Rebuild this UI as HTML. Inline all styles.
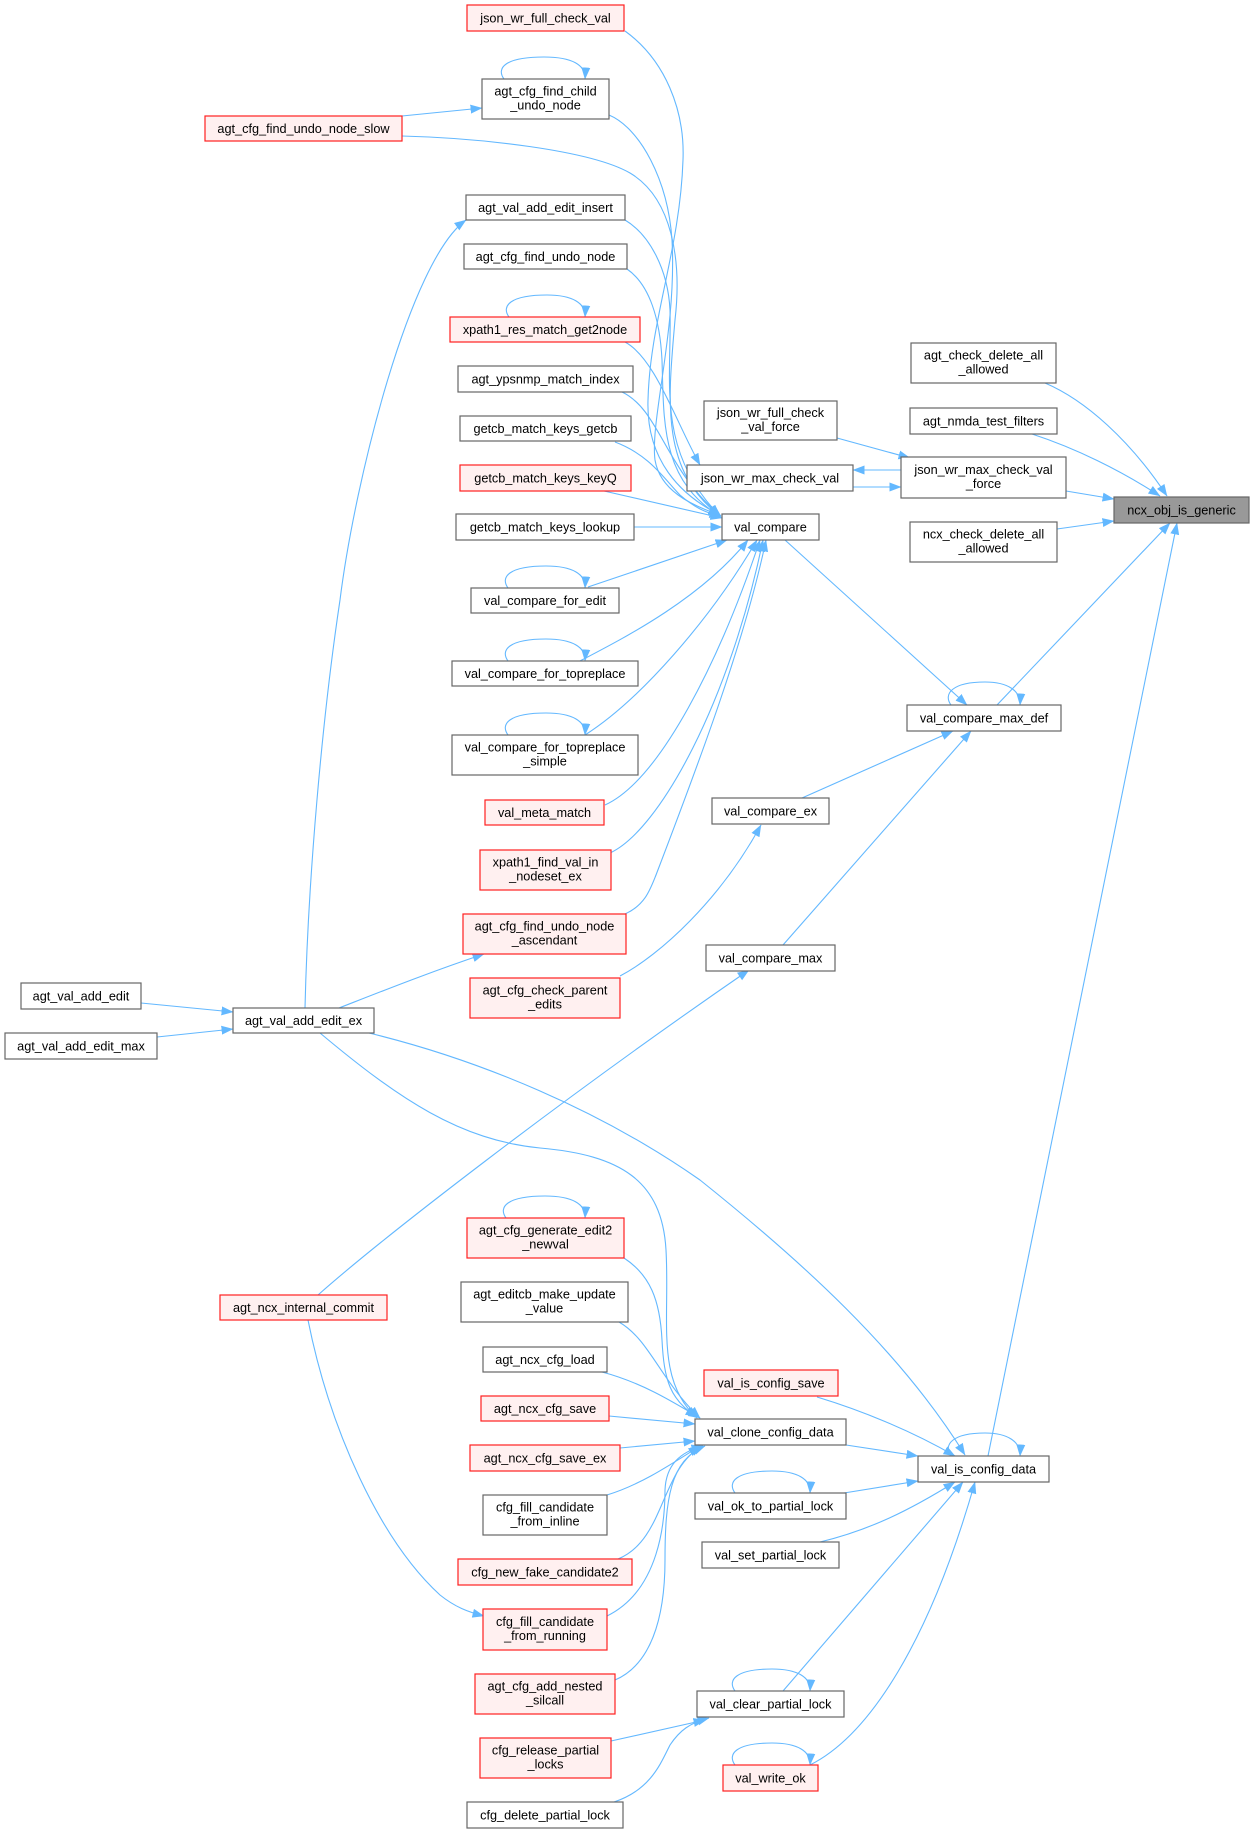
<!DOCTYPE html>
<html><head><meta charset="utf-8"><style>
html,body{margin:0;padding:0;background:#fff;}
svg{display:block;}
text{font-family:"Liberation Sans",Arial,sans-serif;font-size:12.7px;fill:#000;text-anchor:middle;}
.g{fill:#fff;stroke:#666;stroke-width:1.2;}
.r{fill:#fff0f0;stroke:#ff2020;stroke-width:1.2;}
.root{fill:#999;stroke:#666;stroke-width:1.2;}
.e path{fill:none;stroke:#63b8ff;stroke-width:1.1;marker-end:url(#ah);}
</style></head><body>
<svg width="1253" height="1833" viewBox="0 0 1253 1833" xmlns="http://www.w3.org/2000/svg">
<defs><marker id="ah" markerUnits="userSpaceOnUse" markerWidth="13" markerHeight="10" refX="11.5" refY="4.5" orient="auto"><path d="M0,0 L12,4.5 L0,9 z" fill="#63b8ff"/></marker></defs>
<g class="e">
<path d="M1045,383 C1085,400 1130,440 1167,496"/>
<path d="M1032,434 C1075,448 1120,470 1160,496"/>
<path d="M1066,491 L1114,499"/>
<path d="M1057,529 L1114,521"/>
<path d="M997,705 L1170,523"/>
<path d="M988,1456 L1177,523"/>
<path d="M837,438 L910,458"/>
<path d="M901,470 L853,470"/>
<path d="M853,487 L901,487"/>
<path d="M625,342 C655,358 675,420 700,465"/>
<path d="M625,31 C665,60 685,110 683,160 C680,250 650,320 648,400 C646,460 680,495 720,515"/>
<path d="M609,115 C640,128 668,180 672,240 C677,330 650,420 655,460 C660,490 690,505 720,515"/>
<path d="M402,136 C480,138 590,150 630,173 C672,198 682,260 675,320 C668,400 660,470 720,516"/>
<path d="M625,220 C650,235 668,270 670,310 C672,380 655,450 720,516"/>
<path d="M627,269 C650,285 660,320 662,360 C664,420 660,480 720,516"/>
<path d="M305,1008 C308,880 322,720 340,600 C355,480 410,260 466,220"/>
<path d="M141,1003 L233,1012"/>
<path d="M157,1037 L233,1029"/>
<path d="M339,1008 C380,992 430,972 484,954"/>
<path d="M320,1033 C400,1100 460,1140 540,1148 C620,1155 662,1180 666,1250 C670,1320 655,1380 697,1418"/>
<path d="M369,1033 C480,1060 600,1110 700,1180 C800,1260 900,1350 965,1455"/>
<path d="M318,1295 C380,1240 560,1100 749,970"/>
<path d="M308,1320 C330,1430 380,1540 440,1595 C455,1607 468,1612 484,1616"/>
<path d="M620,976 C660,955 720,900 761,825"/>
<path d="M785,540 L967,705"/>
<path d="M802,798 L953,731"/>
<path d="M783,945 L971,731"/>
<path d="M634,527 L722,527"/>
<path d="M604,491 L722,518"/>
<path d="M615,442 C650,455 665,480 680,495 C695,508 705,512 721,517"/>
<path d="M622,392 C660,410 665,470 721,516"/>
<path d="M588,587 L727,540"/>
<path d="M580,661 C620,640 700,600 748,540"/>
<path d="M585,735 C640,700 710,620 757,540"/>
<path d="M605,805 C660,780 720,660 760,540"/>
<path d="M610,853 C660,830 730,700 763,540"/>
<path d="M625,914 C645,905 650,890 656,875 C700,760 745,640 766,540"/>
<path d="M624,1258 C650,1275 660,1300 662,1340 C664,1380 670,1400 697,1417"/>
<path d="M619,1322 C650,1340 660,1380 700,1418"/>
<path d="M602,1372 C640,1382 670,1400 700,1418"/>
<path d="M609,1416 L695,1424"/>
<path d="M620,1448 L695,1441"/>
<path d="M607,1495 C640,1485 670,1465 700,1446"/>
<path d="M618,1559 C665,1540 660,1470 702,1446"/>
<path d="M607,1616 C660,1590 665,1520 665,1490 C666,1465 680,1452 703,1446"/>
<path d="M615,1680 C650,1665 665,1620 665,1560 C665,1500 670,1460 705,1446"/>
<path d="M846,1445 L918,1456"/>
<path d="M817,1397 C860,1410 910,1430 955,1456"/>
<path d="M844,1493 L918,1481"/>
<path d="M820,1542 C870,1530 910,1510 955,1482"/>
<path d="M783,1691 L963,1482"/>
<path d="M810,1765 C870,1735 930,1640 975,1482"/>
<path d="M611,1741 L705,1720"/>
<path d="M614,1802 C650,1790 660,1765 670,1745 C680,1730 690,1723 709,1718"/>
<path d="M402,116 L482,108"/>
<path d="M504,79 C496,68 505,57 544,57 C572,57 586,65 585,79"/>
<path d="M509,317 C501,306 510,295 547,295 C572,295 586,303 585,317"/>
<path d="M508,588 C500,577 509,566 546,566 C572,566 586,574 585,588"/>
<path d="M508,661 C500,650 509,639 546,639 C572,639 586,647 585,661"/>
<path d="M508,735 C500,724 509,713 546,713 C572,713 586,721 585,735"/>
<path d="M506,1218 C498,1207 507,1196 545,1196 C572,1196 586,1204 585,1218"/>
<path d="M735,1493 C727,1482 736,1471 772,1471 C797,1471 811,1479 810,1493"/>
<path d="M735,1691 C727,1680 736,1669 772,1669 C797,1669 811,1677 810,1691"/>
<path d="M735,1765 C727,1754 736,1743 772,1743 C797,1743 811,1751 810,1765"/>
<path d="M951,1456 C943,1445 952,1433 985,1433 C1008,1433 1021,1442 1020,1456"/>
<path d="M951,705 C943,694 952,682 985,682 C1008,682 1021,691 1020,705"/>
</g>
<g>
<rect class="r" x="467" y="5" width="157" height="26"/><text x="545.5" y="22.5">json_wr_full_check_val</text>
<rect class="g" x="482" y="79" width="127" height="40"/><text x="545.5" y="95.5">agt_cfg_find_child</text><text x="545.5" y="109.5">_undo_node</text>
<rect class="r" x="205" y="116" width="197" height="25"/><text x="303.5" y="133">agt_cfg_find_undo_node_slow</text>
<rect class="g" x="466" y="195" width="159" height="25"/><text x="545.5" y="212">agt_val_add_edit_insert</text>
<rect class="g" x="464" y="244" width="163" height="25"/><text x="545.5" y="261">agt_cfg_find_undo_node</text>
<rect class="r" x="450" y="317" width="190" height="25"/><text x="545" y="334">xpath1_res_match_get2node</text>
<rect class="g" x="458" y="366" width="175" height="26"/><text x="545.5" y="383.5">agt_ypsnmp_match_index</text>
<rect class="g" x="460" y="416" width="171" height="25"/><text x="545.5" y="433">getcb_match_keys_getcb</text>
<rect class="r" x="460" y="465" width="171" height="26"/><text x="545.5" y="482.5">getcb_match_keys_keyQ</text>
<rect class="g" x="456" y="514" width="178" height="26"/><text x="545" y="531.5">getcb_match_keys_lookup</text>
<rect class="g" x="471" y="588" width="148" height="25"/><text x="545" y="605">val_compare_for_edit</text>
<rect class="g" x="452" y="661" width="186" height="25"/><text x="545" y="678">val_compare_for_topreplace</text>
<rect class="g" x="452" y="735" width="186" height="40"/><text x="545" y="751.5">val_compare_for_topreplace</text><text x="545" y="765.5">_simple</text>
<rect class="r" x="485" y="800" width="119" height="25"/><text x="544.5" y="817">val_meta_match</text>
<rect class="r" x="480" y="850" width="131" height="40"/><text x="545.5" y="866.5">xpath1_find_val_in</text><text x="545.5" y="880.5">_nodeset_ex</text>
<rect class="r" x="463" y="914" width="163" height="40"/><text x="544.5" y="930.5">agt_cfg_find_undo_node</text><text x="544.5" y="944.5">_ascendant</text>
<rect class="r" x="470" y="978" width="150" height="40"/><text x="545" y="994.5">agt_cfg_check_parent</text><text x="545" y="1008.5">_edits</text>
<rect class="g" x="21" y="983" width="120" height="26"/><text x="81" y="1000.5">agt_val_add_edit</text>
<rect class="g" x="233" y="1008" width="141" height="25"/><text x="303.5" y="1025">agt_val_add_edit_ex</text>
<rect class="g" x="5" y="1033" width="152" height="26"/><text x="81" y="1050.5">agt_val_add_edit_max</text>
<rect class="g" x="911" y="343" width="145" height="40"/><text x="983.5" y="359.5">agt_check_delete_all</text><text x="983.5" y="373.5">_allowed</text>
<rect class="g" x="910" y="408" width="147" height="26"/><text x="983.5" y="425.5">agt_nmda_test_filters</text>
<rect class="g" x="704" y="401" width="133" height="39"/><text x="770.5" y="417">json_wr_full_check</text><text x="770.5" y="431">_val_force</text>
<rect class="g" x="901" y="457" width="165" height="41"/><text x="983.5" y="474">json_wr_max_check_val</text><text x="983.5" y="488">_force</text>
<rect class="g" x="687" y="465" width="166" height="26"/><text x="770" y="482.5">json_wr_max_check_val</text>
<rect class="root" x="1114" y="497" width="135" height="26"/><text x="1181.5" y="514.5">ncx_obj_is_generic</text>
<rect class="g" x="910" y="522" width="147" height="40"/><text x="983.5" y="538.5">ncx_check_delete_all</text><text x="983.5" y="552.5">_allowed</text>
<rect class="g" x="722" y="514" width="97" height="26"/><text x="770.5" y="531.5">val_compare</text>
<rect class="g" x="907" y="705" width="154" height="26"/><text x="984" y="722.5">val_compare_max_def</text>
<rect class="g" x="712" y="798" width="117" height="26"/><text x="770.5" y="815.5">val_compare_ex</text>
<rect class="g" x="706" y="945" width="129" height="26"/><text x="770.5" y="962.5">val_compare_max</text>
<rect class="r" x="467" y="1218" width="157" height="40"/><text x="545.5" y="1234.5">agt_cfg_generate_edit2</text><text x="545.5" y="1248.5">_newval</text>
<rect class="r" x="220" y="1295" width="167" height="25"/><text x="303.5" y="1312">agt_ncx_internal_commit</text>
<rect class="g" x="461" y="1282" width="167" height="40"/><text x="544.5" y="1298.5">agt_editcb_make_update</text><text x="544.5" y="1312.5">_value</text>
<rect class="g" x="483" y="1347" width="124" height="25"/><text x="545" y="1364">agt_ncx_cfg_load</text>
<rect class="r" x="481" y="1396" width="128" height="25"/><text x="545" y="1413">agt_ncx_cfg_save</text>
<rect class="r" x="470" y="1445" width="150" height="26"/><text x="545" y="1462.5">agt_ncx_cfg_save_ex</text>
<rect class="g" x="483" y="1495" width="124" height="40"/><text x="545" y="1511.5">cfg_fill_candidate</text><text x="545" y="1525.5">_from_inline</text>
<rect class="r" x="458" y="1559" width="174" height="26"/><text x="545" y="1576.5">cfg_new_fake_candidate2</text>
<rect class="r" x="483" y="1609" width="124" height="41"/><text x="545" y="1626">cfg_fill_candidate</text><text x="545" y="1640">_from_running</text>
<rect class="r" x="475" y="1674" width="140" height="40"/><text x="545" y="1690.5">agt_cfg_add_nested</text><text x="545" y="1704.5">_silcall</text>
<rect class="r" x="480" y="1738" width="131" height="40"/><text x="545.5" y="1754.5">cfg_release_partial</text><text x="545.5" y="1768.5">_locks</text>
<rect class="g" x="467" y="1802" width="156" height="26"/><text x="545" y="1819.5">cfg_delete_partial_lock</text>
<rect class="r" x="704" y="1370" width="134" height="26"/><text x="771" y="1387.5">val_is_config_save</text>
<rect class="g" x="695" y="1419" width="151" height="26"/><text x="770.5" y="1436.5">val_clone_config_data</text>
<rect class="g" x="918" y="1456" width="131" height="26"/><text x="983.5" y="1473.5">val_is_config_data</text>
<rect class="g" x="695" y="1493" width="151" height="26"/><text x="770.5" y="1510.5">val_ok_to_partial_lock</text>
<rect class="g" x="702" y="1542" width="137" height="26"/><text x="770.5" y="1559.5">val_set_partial_lock</text>
<rect class="g" x="697" y="1691" width="147" height="26"/><text x="770.5" y="1708.5">val_clear_partial_lock</text>
<rect class="r" x="723" y="1765" width="95" height="26"/><text x="770.5" y="1782.5">val_write_ok</text>
</g>
</svg>
</body></html>
